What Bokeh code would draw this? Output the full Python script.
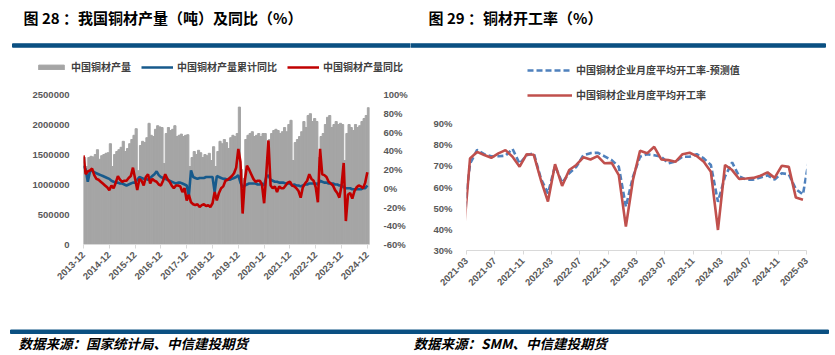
import math
from bokeh.plotting import figure
from bokeh.models import (Range1d, LinearAxis, FixedTicker, PrintfTickFormatter,
                          BasicTickFormatter, Legend, LegendItem, Label)
from bokeh.layouts import column, row
from bokeh.embed import file_html
from bokeh.resources import INLINE

# ---------------- Figure 28 data (monthly, 2013-12 .. 2024-12) ----------------
prod_tick_labels = ["2013-12", "2014-12", "2015-12", "2016-12", "2017-12", "2018-12",
                    "2019-12", "2020-12", "2021-12", "2022-12", "2023-12", "2024-12"]
prod_axis_ticks = [0, 500000, 1000000, 1500000, 2000000, 2500000]
pct_axis_ticks = [-60, -40, -20, 0, 20, 40, 60, 80, 100]

production = [
    1450000,
    1300000, 1450000, 1470000, 1460000, 1500000, 1580000, 1420000, 1480000, 1500000, 1520000, 1530000, 1680000,
    1300000, 1500000, 1550000, 1580000, 1620000, 1720000, 1550000, 1600000, 1680000, 1750000, 1820000, 1930000,
    1230000, 1650000, 1720000, 1700000, 1780000, 2020000, 1820000, 1800000, 1920000, 1980000, 1960000, 1950000,
    1350000, 1850000, 1950000, 1900000, 1920000, 1980000, 1800000, 1820000, 1840000, 1800000, 1820000, 1830000,
    1300000, 1450000, 1550000, 1500000, 1570000, 1530000, 1450000, 1500000, 1480000, 1520000, 1400000, 1630000,
    1300000, 1550000, 1720000, 1680000, 1750000, 1700000, 1600000, 1780000, 1820000, 1800000, 1850000, 2290000,
    1250000, 1100000, 1750000, 1820000, 1850000, 1880000, 1800000, 1820000, 1850000, 1800000, 1850000, 1850000,
    1350000, 1750000, 1850000, 1900000, 1920000, 1900000, 1850000, 1880000, 1950000, 1880000, 2000000, 2070000,
    1400000, 1700000, 1750000, 1800000, 1880000, 2050000, 1950000, 2150000, 2180000, 2050000, 2100000, 2050000,
    1450000, 1800000, 1850000, 2000000, 2120000, 2150000, 1950000, 2000000, 2050000, 2000000, 2020000, 2000000,
    1400000, 1850000, 2000000, 1950000, 1900000, 2000000, 1950000, 1980000, 2050000, 2100000, 2150000, 2280000,
]
yoy_cum = [
    24,
    20, 7, 18, 19, 17, 16, 15, 14, 13, 12, 11, 10,
    8, 7, 6, 6, 5, 5, 4, 3, 4, 5, 6, 6,
    9, 12, 11, 10, 10, 9, 11, 13, 15, 18, 14, 12,
    11, 10, 9, 8, 7, 6, 5, 6, 6, 5, 4, 3,
    -8, 19, 12, 11, 10, 11, 11, 11, 12, 12, 12, 12,
    -4, 13, 12, 11, 10, 10, 9, 9, 10, 11, 12, 14,
    6, 1, 3, 4, 5, 5, 5, 5, 4, 4, 5, 3,
    12, 14, 9, 8, 7, 7, 6, 6, 6, 5, 5, 5,
    3, 4, 3, 3, 2, 3, 4, 4, 5, 5, 5, 5,
    4, 8, 7, 6, 6, 5, 5, 5, 4, 4, 3, 3,
    1, 0, 0, 0, -1, -1, -1, -1, -1, 0, 0, 3,
]
yoy_month = [
    35,
    15, 18, 19, 21, 14, 10, 9, 7, 5, 3, 1, -2,
    3, 0, 6, 13, 9, 7, 8, 8, 11, 13, 22, 10,
    -2, 10, 8, 3, 12, 15, 5, 10, 8, 7, 4, 3,
    8, 15, 10, 7, 3, 0, 3, 3, 2, -4, 0, -13,
    -7, -15, -17, -18, -17, -20, -18, -17, -19, -18, -20, -16,
    -4, -13, -5, 0, 2, 8, 9, 11, 13, 16, 22, 42,
    28, -27, 8, 24, 20, 15, 10, 7, 8, 8, 4, -16,
    15, 51, 3, 0, 2, -4, 2, 0, 0, 3, 6, 7,
    3, 2, 0, -3, -10, 1, 5, 8, 15, 10, 8, 1,
    -15, 42, 15, 14, 12, 7, 5, 3, -2, -5, -10, 3,
    27, -35, -7, -5, -11, -3, 1, 3, 2, 0, 6, 17,
]

# ---------------- Figure 29 data (monthly, starting 2021-02) ----------------
rate_tick_labels = ["2021-03", "2021-07", "2021-11", "2022-03", "2022-07", "2022-11", "2023-03",
                    "2023-07", "2023-11", "2024-03", "2024-07", "2024-11", "2025-03"]
rate_axis_ticks = [30, 40, 50, 60, 70, 80, 90]
rate_forecast = [  # 2021-02 .. 2025-03
    42,
    71, 77.5, 75.5, 74.5, 74.5, 74.8, 78, 71, 75, 76, 64, 57,
    70, 62, 66.5, 69.5, 75, 76, 76.2, 74.5, 72.7, 69.6, 50.7, 64.8,
    74.3, 75.5, 75, 74.3, 71.2, 72, 74.3, 74.3, 75.5, 73.5, 70.4, 53,
    65, 71.6, 65, 63.5, 63.5, 64.5, 65.5, 63.5, 66.5, 66, 59, 56.5,
    76,
]
rate_actual = [  # 2021-02 .. 2025-02
    34,
    73.5, 76.6, 75.1, 73.8, 75.9, 77.4, 74.3, 69.6, 75.5, 75.2, 63.3, 53.1,
    70.8, 60.5, 68.0, 70.4, 74.0, 73.0, 74.6, 71.2, 71.4, 65.6, 41.3, 63.3,
    77.1, 75.9, 79.0, 73.0, 72.7, 71.9, 75.5, 76.2, 74.6, 71.9, 67.2, 39.7,
    70.4, 68.0, 63.8, 64.0, 64.3, 65.3, 66.9, 64.3, 70.0, 69.5, 55.0, 54.0,
]
assert len(production) == len(yoy_cum) == len(yoy_month) == 133
assert len(rate_forecast) == 50 and len(rate_actual) == 49

CJK = "Noto Sans CJK SC"
NUM = "Liberation Sans"
AX_COLOR = "#595959"
LEG_COLOR = "#404040"
RULE = "#0b5082"
BAR_C = "#a5a5a5"
CUM_C = "#175a8c"
YOY_C = "#c00000"
FC_C = "#4f81bd"
ACT_C = "#c0504d"

n = len(production)
idx = list(range(n))
bar_x = [i + 0.5 for i in idx]
xf = [i - 0.5 for i in range(len(rate_forecast))]
xa = [i - 0.5 for i in range(len(rate_actual))]


def no_align(p):
    if "frame_align" in p.properties():
        p.frame_align = False
    return p


def blank(w, h):
    p = figure(width=w, height=h, x_range=Range1d(0, w), y_range=Range1d(0, h),
               output_backend="svg", toolbar_location=None, min_border=0,
               x_axis_location=None, y_axis_location=None)
    p.grid.visible = False
    p.outline_line_color = None
    return no_align(p)


def make_legend(items, loc, orient, gw, gh, lh, spacing):
    return Legend(items=items, orientation=orient, location=loc,
                  glyph_width=gw, glyph_height=gh, label_height=lh, label_standoff=4,
                  spacing=spacing, padding=0, margin=0, border_line_color=None,
                  background_fill_alpha=0, label_text_font=CJK, label_text_font_size="10px",
                  label_text_font_style="bold", label_text_color=LEG_COLOR)


def add_title(p, x, y, t):
    p.add_layout(Label(x=x, y=y, text=t, text_baseline="middle", text_font=CJK,
                       text_font_size="15px", text_font_style="bold", text_color="#000000"))


# ---------------- header strips with titles, rules and legends ----------------
headL = blank(410, 80)
headL.quad(left=12, right=412, bottom=33.3, top=36.7, color=RULE)
add_title(headL, 23, 63, "图 28 ：我国铜材产量（吨）及同比（%）")
# legend keys: same series, renderers hidden (only their legend swatches are shown)
kb = headL.vbar(x=bar_x, top=production, width=1, fill_color=BAR_C, line_color=BAR_C, visible=False)
kc = headL.line(x=idx, y=yoy_cum, line_color=CUM_C, line_width=2.6, visible=False)
ky = headL.line(x=idx, y=yoy_month, line_color=YOY_C, line_width=2.6, visible=False)
headL.add_layout(make_legend([LegendItem(label="中国铜材产量", renderers=[kb]),
                              LegendItem(label="中国铜材产量累计同比", renderers=[kc]),
                              LegendItem(label="中国铜材产量同比", renderers=[ky])],
                             (35, 6), "horizontal", 32, 6, 12, 10))

headR = blank(425, 105)
headR.quad(left=-2, right=415, bottom=58.3, top=61.7, color=RULE)
add_title(headR, 18, 88, "图 29 ：铜材开工率（%）")
kf = headR.line(x=xf, y=rate_forecast, line_color=FC_C, line_width=2.6, line_dash="6 3", visible=False)
ka = headR.line(x=xa, y=rate_actual, line_color=ACT_C, line_width=2.6, visible=False)
headR.add_layout(make_legend([LegendItem(label="中国铜材企业月度平均开工率-预测值", renderers=[kf]),
                              LegendItem(label="中国铜材企业月度平均开工率", renderers=[ka])],
                             (117, 3), "vertical", 45, 12, 12, 10))

# ---------------- footer ----------------
foot = blank(835, 30)
foot.quad(left=10, right=828, bottom=22, top=25.5, color=RULE)
for x, t in [(18, "数据来源：国家统计局、中信建投期货"), (413, "数据来源：SMM、中信建投期货")]:
    foot.add_layout(Label(x=x, y=13, text=t, text_baseline="middle", text_font=CJK,
                          text_font_size="13.5px", text_font_style="bold italic", text_color="#000000"))


def style_axis(ax, size="9.5px"):
    ax.major_label_text_font = NUM
    ax.major_label_text_font_size = size
    ax.major_label_text_font_style = "bold"
    ax.major_label_text_color = AX_COLOR
    ax.minor_tick_line_color = None


# ---------------- left chart ----------------
pl = figure(width=410, height=245, output_backend="svg", toolbar_location=None,
            x_range=Range1d(0, n), y_range=Range1d(0, prod_axis_ticks[-1]),
            min_border_left=83, min_border_right=38, min_border_top=14, min_border_bottom=81)
no_align(pl)
pl.extra_y_ranges = {"pct": Range1d(pct_axis_ticks[0], pct_axis_ticks[-1])}
pl.grid.visible = False
pl.outline_line_color = None

pl.vbar(x=bar_x, top=production, width=1.0, fill_color=BAR_C, line_color=BAR_C, line_width=1.0)
pl.line(x=idx, y=yoy_cum, y_range_name="pct", line_color=CUM_C, line_width=2.6)
pl.line(x=idx, y=yoy_month, y_range_name="pct", line_color=YOY_C, line_width=2.6)

pl.xaxis.ticker = FixedTicker(ticks=[12 * i for i in range(len(prod_tick_labels))])
pl.xaxis.major_label_overrides = {12 * i: s for i, s in enumerate(prod_tick_labels)}
pl.xaxis.major_label_orientation = math.pi / 4
pl.xaxis.axis_line_color = "#d9d9d9"
pl.xaxis.major_tick_line_color = "#d9d9d9"
pl.xaxis.major_tick_in = 0
pl.xaxis.major_tick_out = 4
style_axis(pl.xaxis[0], "9.5px")

pl.yaxis.ticker = FixedTicker(ticks=prod_axis_ticks)
pl.yaxis.formatter = BasicTickFormatter(use_scientific=False)
pl.yaxis.axis_line_color = None
pl.yaxis.major_tick_line_color = None
pl.yaxis.major_label_standoff = 8
style_axis(pl.yaxis[0])

ax_r = LinearAxis(y_range_name="pct", ticker=FixedTicker(ticks=pct_axis_ticks),
                  formatter=PrintfTickFormatter(format="%d%%"))
ax_r.axis_line_color = None
ax_r.major_tick_line_color = None
ax_r.major_label_standoff = 8
style_axis(ax_r)
pl.add_layout(ax_r, "right")

# ---------------- right chart ----------------
pr = figure(width=425, height=220, output_backend="svg", toolbar_location=None,
            x_range=Range1d(0, 4 * (len(rate_tick_labels) - 1)),
            y_range=Range1d(rate_axis_ticks[0], rate_axis_ticks[-1]),
            min_border_left=56, min_border_right=29, min_border_top=18, min_border_bottom=75)
no_align(pr)
pr.grid.visible = False
pr.outline_line_color = None
pr.line(x=xf, y=rate_forecast, line_color=FC_C, line_width=2.6, line_dash="6 3")
pr.line(x=xa, y=rate_actual, line_color=ACT_C, line_width=2.6)

pr.xaxis.ticker = FixedTicker(ticks=[4 * i for i in range(len(rate_tick_labels))])
pr.xaxis.major_label_overrides = {4 * i: s for i, s in enumerate(rate_tick_labels)}
pr.xaxis.major_label_orientation = math.pi / 4
pr.xaxis.axis_line_color = "#d9d9d9"
pr.xaxis.major_tick_line_color = "#d9d9d9"
pr.xaxis.major_tick_in = 0
pr.xaxis.major_tick_out = 4
style_axis(pr.xaxis[0], "9.5px")

pr.yaxis.ticker = FixedTicker(ticks=rate_axis_ticks)
pr.yaxis.formatter = PrintfTickFormatter(format="%d%%")
pr.yaxis.axis_line_color = None
pr.yaxis.major_tick_line_color = None
pr.yaxis.major_label_standoff = 8
style_axis(pr.yaxis[0])

layout = column(row(column(row(headL), pl), column(row(headR), pr)), foot)
open("out.html", "w").write(file_html(layout, INLINE))
